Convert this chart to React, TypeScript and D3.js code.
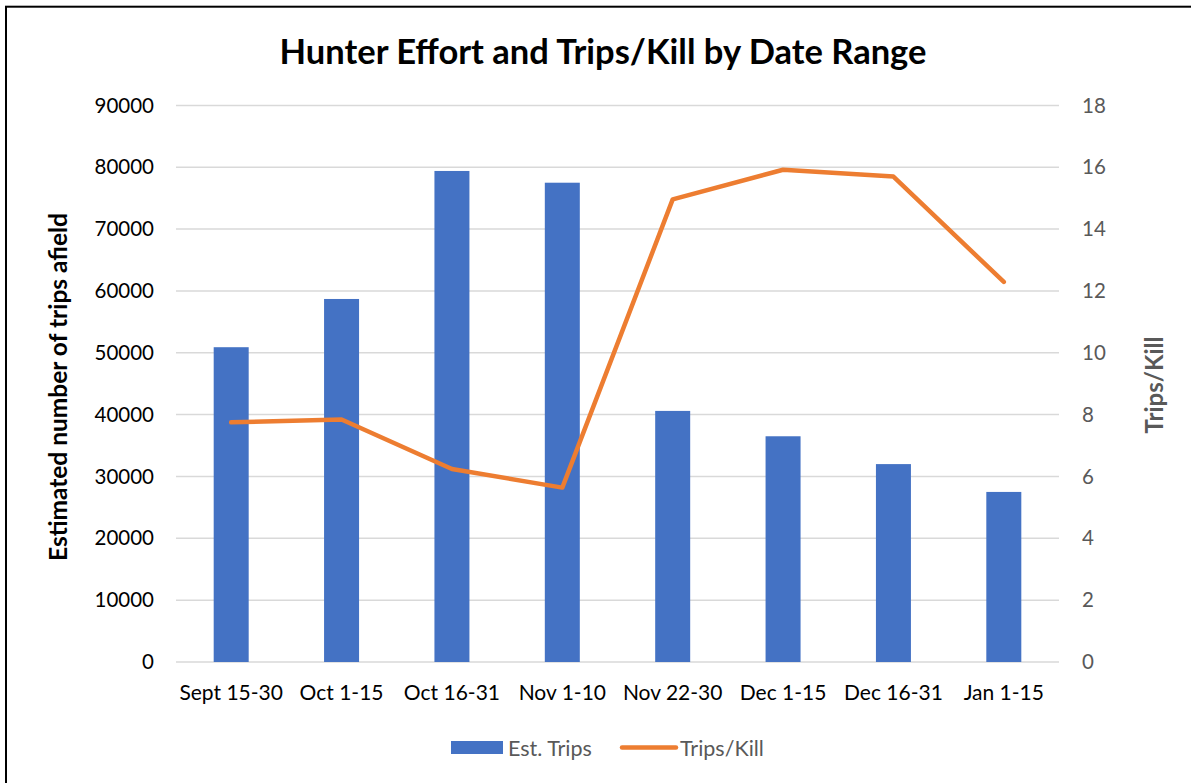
import React from "react";
import * as d3 from "d3";

const categories = ["Sept 15-30", "Oct 1-15", "Oct 16-31", "Nov 1-10", "Nov 22-30", "Dec 1-15", "Dec 16-31", "Jan 1-15"];
const estTrips = [50900, 58700, 79400, 77500, 40600, 36500, 32000, 27500];
const tripsPerKill = [7.75, 7.84, 6.24, 5.64, 14.96, 15.92, 15.7, 12.29];
const leftTicks = [0, 10000, 20000, 30000, 40000, 50000, 60000, 70000, 80000, 90000];
const rightTicks = [0, 2, 4, 6, 8, 10, 12, 14, 16, 18];

const W = 1191;
const H = 783;
const FONT = "Lato, 'Open Sans', sans-serif";

export default function App() {
  const x0 = 176, x1 = 1059, yTop = 105.4, yBot = 662;
  const band = d3.scaleBand<string>().domain(categories).range([x0, x1]);
  const yL = d3.scaleLinear().domain([0, 90000]).range([yBot, yTop]);
  const yR = d3.scaleLinear().domain([0, 18]).range([yBot, yTop]);
  const cx = (c: string) => (band(c) as number) + band.bandwidth() / 2;
  const barW = 35;
  const line = d3.line<number>().x((_, i) => cx(categories[i])).y((d) => yR(d));

  return (
    <svg width={W} height={H} style={{ position: "absolute", left: 0, top: 0 }} fontFamily={FONT}>
      <rect x={0} y={0} width={W} height={H} fill="#fff" />
      <rect x={6} y={6.7} width={W + 10} height={H + 10} fill="none" stroke="#000" strokeWidth={2} />
      <text x={603} y={64} textAnchor="middle" fontSize={34.5} fontWeight="bold" fill="#000">
        Hunter Effort and Trips/Kill by Date Range
      </text>
      {leftTicks.map((t) => (
        <line key={t} x1={x0} x2={x1} y1={yL(t)} y2={yL(t)} stroke="#d9d9d9" strokeWidth={1.5} />
      ))}
      {categories.map((c, i) => (
        <rect key={c} x={cx(c) - barW / 2} y={yL(estTrips[i])} width={barW} height={yBot - yL(estTrips[i])} fill="#4472C4" />
      ))}
      <path d={line(tripsPerKill) || ""} fill="none" stroke="#ED7D31" strokeWidth={4.5} strokeLinecap="round" strokeLinejoin="round" />
      {leftTicks.map((t) => (
        <text key={t} x={154} y={yL(t)} dy="0.35em" textAnchor="end" fontSize={20.5} fill="#000">{t}</text>
      ))}
      {rightTicks.map((t) => (
        <text key={t} x={1082} y={yR(t)} dy="0.35em" textAnchor="start" fontSize={20.5} fill="#595959">{t}</text>
      ))}
      {categories.map((c) => (
        <text key={c} x={cx(c)} y={693} dy="0.35em" textAnchor="middle" fontSize={21} fill="#000">{c}</text>
      ))}
      <text transform={`translate(67,387) rotate(-90)`} textAnchor="middle" fontSize={24.5} fontWeight="bold" fill="#000">
        Estimated number of trips afield
      </text>
      <text transform={`translate(1163,385) rotate(-90)`} textAnchor="middle" fontSize={24} fontWeight="bold" fill="#595959">
        Trips/Kill
      </text>
      <rect x={451} y={741} width={52} height={13} fill="#4472C4" />
      <text x={508} y={748} dy="0.35em" fontSize={21.5} fill="#595959">Est. Trips</text>
      <line x1={622} x2={676} y1={747.6} y2={747.6} stroke="#ED7D31" strokeWidth={4.5} strokeLinecap="round" />
      <text x={680} y={748} dy="0.35em" fontSize={21.5} fill="#595959">Trips/Kill</text>
    </svg>
  );
}
